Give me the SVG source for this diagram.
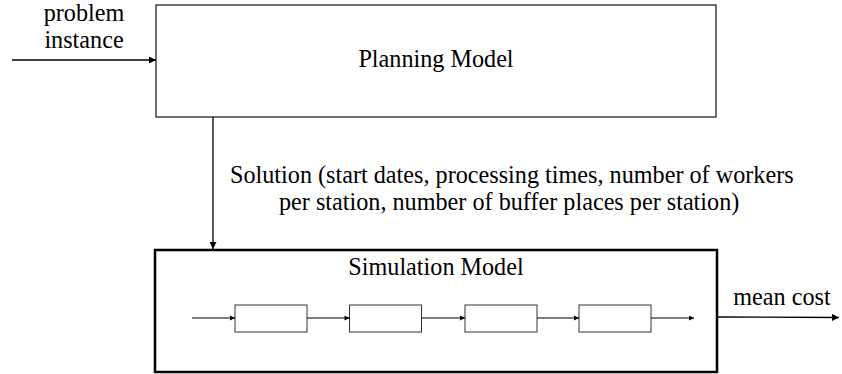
<svg xmlns="http://www.w3.org/2000/svg" width="842" height="374" viewBox="0 0 842 374">
<defs>
<marker id="ah" viewBox="0 0 10 10" refX="10" refY="5" markerWidth="10" markerHeight="7" markerUnits="userSpaceOnUse" orient="auto"><path d="M0,0 L10,5 L0,10 z" fill="#000"/></marker>
<marker id="ahs" viewBox="0 0 10 10" refX="10" refY="5" markerWidth="9" markerHeight="5" markerUnits="userSpaceOnUse" orient="auto"><path d="M0,0 L10,5 L0,10 z" fill="#000"/></marker>
</defs>
<style>
.t{font-family:"Liberation Serif","Times New Roman",serif;font-size:24.2px;fill:#000}
.box{fill:#fff;stroke:#222;stroke-width:1.3}
.sim{fill:#fff;stroke:#000;stroke-width:2.5}
.st{fill:#fff;stroke:#333;stroke-width:1}
.c{fill:none;stroke:#000;stroke-width:1.3}
.cs{fill:none;stroke:#000;stroke-width:1}
</style>
<rect width="842" height="374" fill="#fff"/>
<g id="planning">
<rect class="box" x="156" y="5" width="560" height="112"/>
<text class="t" x="436" y="67" text-anchor="middle">Planning Model</text>
</g>
<g id="simulation">
<rect class="sim" x="155" y="250" width="562" height="122"/>
<text class="t" x="436" y="275" text-anchor="middle">Simulation Model</text>
</g>
<g id="station1"><rect class="st" x="235" y="305" width="72" height="27"/></g>
<g id="station2"><rect class="st" x="349.5" y="305" width="72" height="27"/></g>
<g id="station3"><rect class="st" x="465" y="305" width="72" height="27"/></g>
<g id="station4"><rect class="st" x="579" y="305" width="72" height="27"/></g>
<g id="labels">
<text class="t" x="84" y="21" text-anchor="middle">problem</text>
<text class="t" x="84" y="48" text-anchor="middle">instance</text>
<text class="t" x="230" y="183">Solution (start dates, processing times, number of workers</text>
<text class="t" x="279" y="210">per station, number of buffer places per station)</text>
<text class="t" x="782" y="305" text-anchor="middle">mean cost</text>
</g>
<g id="connectors">
<line class="c" x1="12" y1="60" x2="156" y2="60" marker-end="url(#ah)"/>
<line class="c" x1="213" y1="117" x2="213" y2="249" marker-end="url(#ah)"/>
<line class="c" x1="717" y1="317" x2="839" y2="317.5" marker-end="url(#ah)"/>
<line class="cs" x1="192" y1="318" x2="235" y2="318" marker-end="url(#ahs)"/>
<line class="cs" x1="307" y1="318" x2="349.5" y2="318" marker-end="url(#ahs)"/>
<line class="cs" x1="421.5" y1="318" x2="465" y2="318" marker-end="url(#ahs)"/>
<line class="cs" x1="537" y1="318" x2="579" y2="318" marker-end="url(#ahs)"/>
<line class="cs" x1="651" y1="318" x2="694" y2="318" marker-end="url(#ahs)"/>
</g>
</svg>
